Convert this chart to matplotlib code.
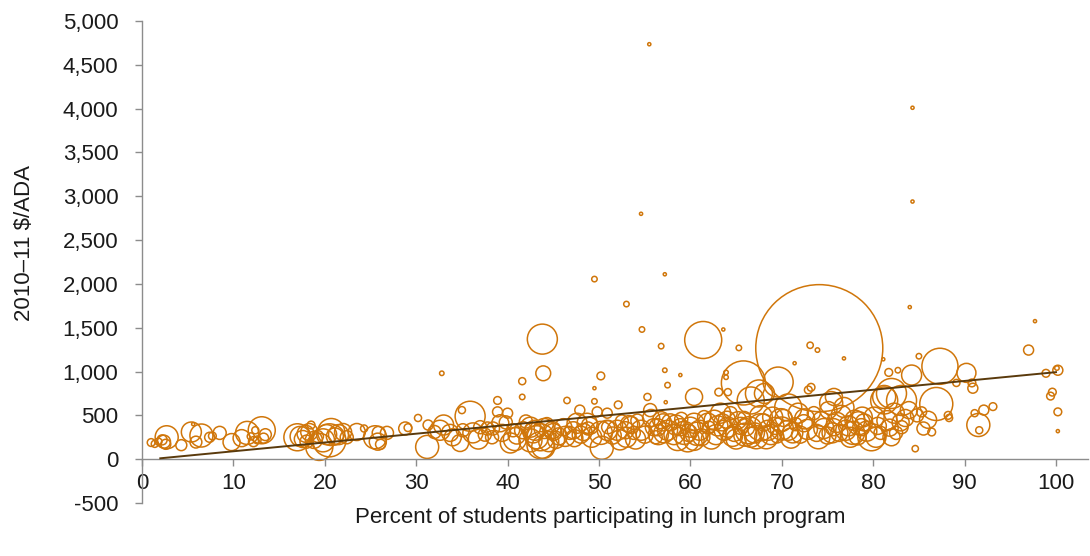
import matplotlib
matplotlib.use("Agg")
import matplotlib.pyplot as plt
from matplotlib.ticker import FuncFormatter

plt.rcParams['font.family'] = ['Liberation Sans', 'DejaVu Sans']

# ---------------- data ----------------
# x: percent of students in lunch program, y: 2010-11 $/ADA, size: bubble value (district size)
pct = [
    1.0, 1.4, 1.8, 2.2, 2.4, 2.7, 2.6, 4.3, 5.4, 5.6, 5.9, 6.5, 7.4, 7.7, 8.5, 9.8, 10.9, 11.5, 11.9, 12.2, 12.4, 12.6, 13.1, 13.3, 13.5,
    17.0, 17.3, 17.6, 17.9, 18.3, 18.5, 18.0, 18.8, 19.2, 19.4, 19.8, 20.2, 20.5, 20.7, 21.1, 21.5, 22.0, 22.4, 23.5, 24.3, 25.5, 25.8, 25.9, 26.1, 26.8, 28.8, 29.1, 30.2, 31.2, 31.3, 32.0, 32.6, 32.8,
    33.0, 33.7, 34.8, 35.0, 35.1, 35.9, 36.2, 37.0, 37.8, 38.3, 38.4, 38.9, 38.9, 39.2, 39.4, 40.0, 40.3, 40.6, 41.6, 41.6, 41.7, 42.5, 42.5, 43.2, 43.6, 43.6, 43.9, 43.8, 43.9, 44.9, 45.0, 46.1, 46.5, 47.2, 47.6, 47.9, 48.3, 48.7, 49.5, 49.5, 49.5, 49.8, 50.2, 50.2, 50.3,
    50.9, 50.9, 51.0, 52.0, 52.1, 52.9, 53.0, 53.5, 54.6, 54.6, 54.7, 55.3, 55.5, 55.6, 55.7, 56.0, 56.4, 56.8, 56.8, 57.1, 57.2, 57.2, 57.3, 57.5, 57.5, 58.4, 58.9, 58.9, 59.3, 59.7, 60.0, 60.4, 60.4, 60.4, 61.4, 61.5, 61.9, 62.6, 63.1, 63.3, 63.6, 63.7, 63.9, 63.9, 64.1, 64.1, 64.4, 64.8, 65.2, 65.3, 65.8, 66.1, 66.4, 66.6, 66.6,
    67.5, 67.7, 67.7, 68.1, 68.5, 69.6, 69.9, 70.7, 70.7, 71.4, 71.8, 72.4, 72.9, 73.1, 73.2, 73.5, 73.9, 74.1, 74.3, 75.1, 75.4, 75.7, 75.7, 76.8, 76.8, 77.0, 78.0, 78.4, 78.7, 79.8, 80.1,
    81.1, 81.2, 81.2, 81.7, 82.0, 82.3, 82.7, 83.1, 83.1, 83.9, 84.0, 84.2, 84.3, 84.3, 84.6, 85.0, 85.3, 86.4, 86.9, 87.3, 88.2, 88.3, 89.1, 90.2, 90.8, 90.9, 91.1, 91.5, 91.6, 92.1, 93.1, 97.0, 97.7, 98.9, 99.4, 99.6, 100.2, 100.1, 100.2, 100.2,
    34.0, 36.8, 37.5, 39.8, 41.0, 42.0, 43.0, 44.3, 44.5, 45.6, 46.8, 47.3, 48.8, 49.2,
    51.5, 52.5, 53.0, 53.8, 54.2, 55.0, 56.2, 57.8, 58.2, 59.0, 59.8, 61.0, 61.2, 62.0, 62.8, 63.5, 64.6, 65.5, 65.9,
    67.0, 67.2, 68.0, 68.8, 69.3, 69.5, 70.2, 71.2, 71.5, 72.0, 72.8, 73.8, 74.6, 75.0, 76.0, 76.3, 77.3, 77.8, 78.3, 79.0, 79.3, 80.5, 80.8, 81.5, 81.8, 82.5, 83.5, 84.8,
    40.8, 42.8, 44.0, 45.3, 46.3, 48.0, 49.0, 52.3, 53.3, 54.0, 56.5, 57.0, 58.6, 60.7, 62.3, 63.0, 64.0, 65.0, 66.0,
    68.3, 69.0, 70.0, 71.0, 72.5, 74.0, 75.5, 76.5, 77.5, 78.8, 80.3, 82.0, 83.0, 85.5, 86.0,
]
dollars_per_ada = [
    190, 175, 200, 220, 200, 250, 170, 160, 310, 400, 195, 270, 250, 265, 300, 195, 240, 300, 260, 200, 330, 220, 330, 240, 280,
    250, 260, 230, 290, 310, 390, 200, 220, 260, 140, 215, 280, 215, 310, 260, 280, 310, 250, 310, 350, 250, 200, 300, 170, 300, 350, 360, 470, 140, 390, 310, 330, 980,
    390, 300, 185, 560, 330, 490, 300, 365, 350, 250, 350, 670, 540, 410, 300, 525, 185, 330, 890, 710, 330, 365, 215, 250, 160, 250, 140, 1370, 980, 330, 310, 365, 670, 330, 410, 560, 310, 410, 2055, 810, 660, 540, 950, 300, 130,
    525, 330, 365, 330, 620, 330, 1770, 390, 330, 2800, 1480, 710, 4735, 560, 470, 365, 365, 445, 1290, 300, 2110, 1015, 650, 845, 330, 390, 365, 960, 300, 215, 365, 215, 410, 710, 1360, 480, 410, 445, 765, 525, 1480, 330, 990, 935, 365, 765, 525, 300, 445, 1270, 870, 365, 330, 670, 250,
    750, 480, 365, 750, 330, 880, 445, 590, 330, 1095, 525, 410, 790, 1300, 820, 525, 1245, 1267, 445, 560, 640, 365, 710, 590, 1150, 330, 445, 410, 365, 250, 480,
    1140, 670, 710, 990, 750, 525, 1015, 670, 365, 560, 1735, 960, 4010, 2940, 120, 1175, 540, 310, 630, 1060, 500, 470, 870, 985, 870, 810, 525, 390, 330, 560, 600, 1245, 1575, 980, 720, 765, 1015, 1040, 540, 320,
    250, 230, 280, 420, 270, 430, 330, 400, 200, 260, 300, 240, 350, 250,
    270, 430, 250, 300, 440, 280, 250, 420, 280, 460, 300, 330, 250, 360, 280, 420, 260, 380, 470,
    300, 250, 420, 280, 380, 260, 470, 300, 400, 280, 340, 300, 350, 270, 420, 300, 380, 300, 260, 420, 320, 380, 300, 440, 360, 300, 470, 500,
    230, 300, 350, 220, 260, 280, 380, 220, 400, 230, 280, 420, 230, 290, 230, 380, 450, 230, 280,
    250, 480, 350, 240, 460, 250, 300, 500, 250, 480, 250, 250, 420, 350, 450,
]
bubble_size = [
    6, 5, 5, 10, 17, 53, 10, 12, 40, 1, 14, 53, 10, 6, 17, 29, 29, 53, 5, 10, 5, 6, 73, 10, 14,
    73, 40, 29, 29, 29, 6, 17, 29, 14, 73, 53, 40, 109, 73, 29, 40, 29, 17, 29, 5, 53, 29, 17, 10, 17, 17, 6, 5, 53, 10, 17, 40, 2,
    40, 29, 29, 5, 17, 90, 40, 17, 17, 17, 17, 6, 10, 29, 29, 10, 40, 17, 5, 3, 29, 40, 53, 53, 73, 73, 53, 90, 22, 29, 29, 29, 4, 29, 40, 10, 29, 40, 3, 1, 3, 10, 6, 53, 53,
    10, 40, 17, 40, 6, 29, 3, 29, 40, 1, 3, 5, 1, 17, 29, 29, 29, 29, 3, 40, 1, 2, 1, 3, 40, 40, 29, 1, 53, 53, 40, 40, 40, 29, 137, 17, 40, 40, 6, 40, 1, 40, 2, 2, 40, 5, 17, 29, 29, 3, 194, 29, 73, 73, 40,
    73, 53, 73, 40, 40, 90, 53, 73, 40, 1, 40, 29, 6, 4, 6, 17, 2, 1613, 29, 29, 53, 29, 29, 40, 1, 40, 40, 53, 29, 73, 40,
    1, 73, 53, 6, 90, 40, 3, 90, 17, 29, 1, 40, 1, 1, 4, 3, 10, 6, 109, 130, 6, 5, 5, 36, 6, 10, 5, 53, 5, 10, 6, 10, 1, 6, 6, 6, 10, 2, 6, 1,
    29, 40, 17, 17, 29, 17, 40, 17, 40, 29, 17, 29, 17, 40,
    29, 17, 40, 17, 17, 29, 17, 29, 40, 17, 29, 40, 29, 17, 40, 29, 40, 29, 17,
    40, 53, 29, 40, 29, 17, 29, 40, 17, 29, 40, 29, 40, 29, 40, 29, 40, 53, 29, 29, 40, 29, 17, 40, 29, 17, 29, 17,
    53, 40, 40, 29, 40, 29, 29, 40, 29, 40, 40, 29, 53, 53, 40, 40, 29, 40, 53,
    53, 40, 53, 40, 40, 53, 40, 40, 40, 40, 40, 29, 29, 17, 29,
]

# linear trendline end points
trend_x = [2.0, 100.0]
trend_y = [10.0, 993.0]

x_ticks = [0, 10, 20, 30, 40, 50, 60, 70, 80, 90, 100]
y_ticks = [-500, 0, 500, 1000, 1500, 2000, 2500, 3000, 3500, 4000, 4500, 5000]

x_title = "Percent of students participating in lunch program"
y_title = "2010\u201311 $/ADA"

# ---------------- plot ----------------
W, H = 1090, 556
fig = plt.figure(figsize=(W / 100, H / 100), dpi=100)
ax = fig.add_axes([142 / W, (H - 503) / H, 946 / W, 482 / H])

orange = '#d0760a'
axis_gray = '#8c8c8c'

sizes = [v * 5.184 for v in bubble_size]
ax.scatter(pct, dollars_per_ada, s=sizes, facecolors='none', edgecolors=orange,
           linewidths=1.1, zorder=2)
ax.plot(trend_x, trend_y, color='#5a3a0c', lw=1.4, zorder=3)

ax.set_xlim(0, 103.5)
ax.set_ylim(-500, 5000)
ax.set_xticks(x_ticks)
ax.set_yticks(y_ticks)
ax.yaxis.set_major_formatter(FuncFormatter(lambda v, p: f"{int(v):,}"))

for s in ['top', 'right']:
    ax.spines[s].set_visible(False)
ax.spines['bottom'].set_position(('data', 0))
for s in ['left', 'bottom']:
    ax.spines[s].set_color(axis_gray)
    ax.spines[s].set_linewidth(1.0)

ax.tick_params(axis='both', colors=axis_gray, labelcolor='#1a1a1a', labelsize=16,
               length=5, width=1.0, direction='out')
ax.tick_params(axis='y', pad=12)
ax.tick_params(axis='x', pad=5)

ax.set_xlabel(x_title, fontsize=16, color='#1a1a1a')
ax.xaxis.set_label_coords(0.484, -0.008)
ax.set_ylabel(y_title, fontsize=16, color='#1a1a1a')
ax.yaxis.set_label_coords(-0.113, 0.539)

fig.savefig('out.png', dpi=100, facecolor='white')
